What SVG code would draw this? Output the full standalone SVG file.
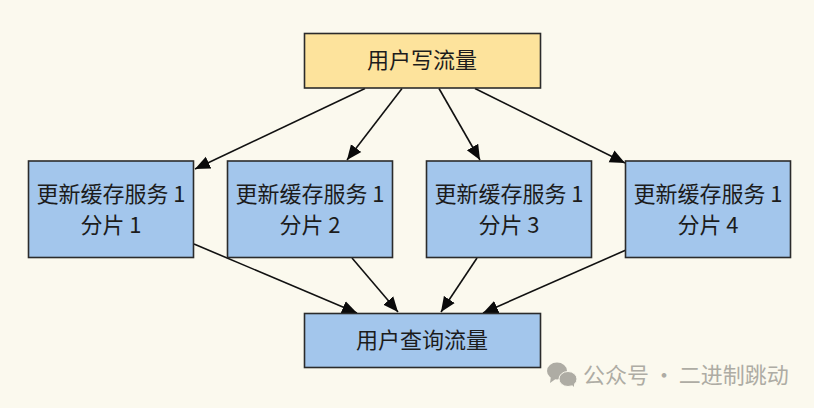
<svg xmlns="http://www.w3.org/2000/svg" width="814" height="408" viewBox="0 0 814 408">
<style>
.n{stroke:#2b2b2b;stroke-width:1.6}
.b{fill:#a3c6ec}
.y{fill:#fde39c}
text{font-family:"Noto Sans CJK SC","Liberation Sans",sans-serif;font-size:22px;fill:#1c1c1c;text-anchor:middle}
.c line{stroke:#111;stroke-width:1.6;marker-end:url(#a)}
.w{font-size:22px;fill:#aeaca4;text-anchor:start;word-spacing:-1px}
</style>
<defs><marker id="a" markerUnits="userSpaceOnUse" markerWidth="16" markerHeight="14" refX="15" refY="7" orient="auto"><path d="M0 0.500L15 7L0 13.500Z" fill="#0a0a0a"/></marker></defs>
<rect width="814" height="408" fill="#fbf9ee"/>
<g id="connectors" class="c">
<line x1="365" y1="88.500" x2="195" y2="169"/>
<line x1="402" y1="88.500" x2="347" y2="160"/>
<line x1="439" y1="88.500" x2="480" y2="160"/>
<line x1="475" y1="88.500" x2="625" y2="163"/>
<line x1="194" y1="244" x2="357" y2="313"/>
<line x1="352" y1="258" x2="398" y2="312"/>
<line x1="477" y1="258" x2="441" y2="312"/>
<line x1="626" y1="250" x2="483" y2="313"/>
</g>
<g id="write"><rect class="n y" x="304.500" y="33.500" width="236" height="54.500"/><text x="422" y="68">用户写流量</text></g>
<g id="s1"><rect class="n b" x="28.500" y="161" width="165" height="96.500"/><text x="111" y="202">更新缓存服务 1</text><text x="111" y="233">分片 1</text></g>
<g id="s2"><rect class="n b" x="227.500" y="161" width="165" height="96.500"/><text x="310" y="202">更新缓存服务 1</text><text x="310" y="233">分片 2</text></g>
<g id="s3"><rect class="n b" x="426.500" y="161" width="165" height="96.500"/><text x="509" y="202">更新缓存服务 1</text><text x="509" y="233">分片 3</text></g>
<g id="s4"><rect class="n b" x="625.500" y="161" width="165" height="96.500"/><text x="708" y="202">更新缓存服务 1</text><text x="708" y="233">分片 4</text></g>
<g id="query"><rect class="n b" x="304.500" y="313.500" width="236" height="54"/><text x="422" y="348">用户查询流量</text></g>
<g id="watermark" fill="#aeaca4">
<ellipse cx="557" cy="371" rx="10" ry="8.500"/><path d="M551 376L550 383L557 378Z"/>
<ellipse cx="568" cy="379" rx="9" ry="7.500" stroke="#fbf9ee"/><path d="M571 384L574 387L574 382Z"/>
<text class="w" x="583" y="383">公众号 · 二进制跳动</text>
</g>
</svg>
